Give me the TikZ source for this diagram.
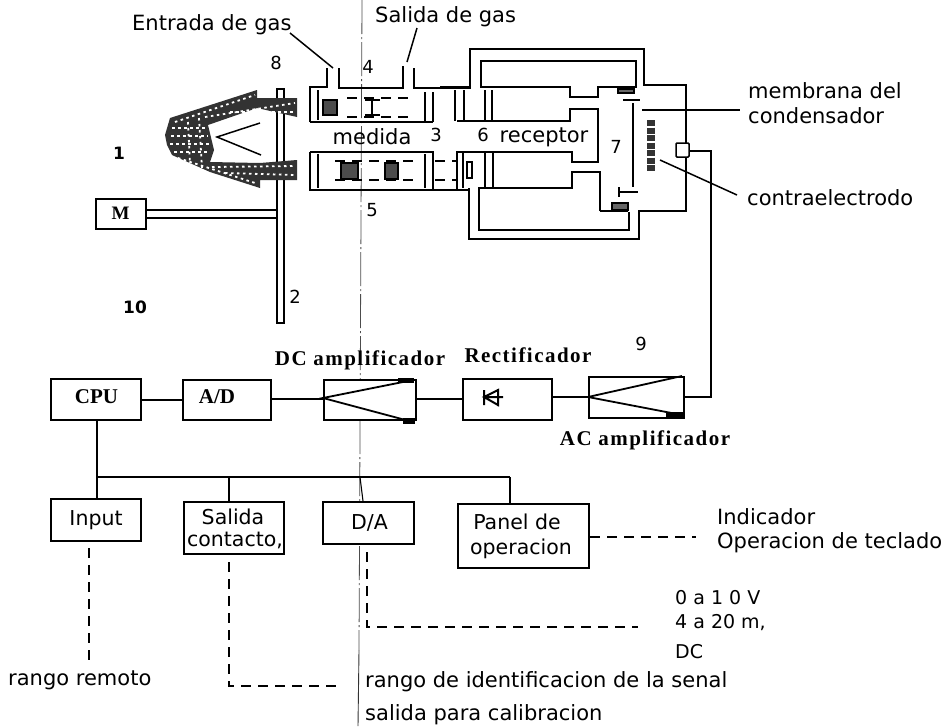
\documentclass[tikz,border=0pt]{standalone}
\usepackage{fontspec}
\setmainfont{Liberation Serif}
\setsansfont{DejaVu Sans}
\newfontfamily\wideserif[LetterSpace=7]{Liberation Serif}
\tikzset{
 px/.style={x=1pt,y=-1pt},
 wire/.style={draw=black,line width=1.5pt},
 thin wire/.style={draw=black,line width=1.1pt},
 block/.style={draw=black,line width=2pt,fill=white,inner sep=0pt,anchor=north west},
 lab/.style={font=\sffamily\fontsize{21}{25}\selectfont,inner sep=0pt,text=black},
 small lab/.style={font=\sffamily\fontsize{19}{22}\selectfont,inner sep=0pt,text=black},
 boxtext/.style={font=\sffamily\fontsize{20.5}{23}\selectfont,inner sep=0pt,text=black},
 num/.style={font=\sffamily\fontsize{18}{20}\selectfont,inner sep=0pt,text=black},
 bnum/.style={font=\sffamily\bfseries\fontsize{17}{20}\selectfont,inner sep=0pt,text=black},
 serif/.style={font=\wideserif\bfseries\fontsize{21}{24}\selectfont,inner sep=0pt,text=black},
 dash1/.style={draw=black,line width=1.5pt,dash pattern=on 10pt off 7pt},
 axisline/.style={draw=black!70,line width=0.8pt,dash pattern=on 34pt off 3pt on 2pt off 3pt},
 coil/.style={draw=none,fill=black!80},
 noise/.style={draw=white,line width=1.8pt,dash pattern=on 2.5pt off 3.5pt},
 core/.style={draw=black,line width=1.6pt,fill=black!70},
}
\newcommand{\bx}[6]{\node[block,minimum width=#4 pt,minimum height=#5 pt] (#1) at (#2,#3) {#6};}
\begin{document}
\begin{tikzpicture}[px]
\useasboundingbox (0,0) rectangle (949,726);
% centre axis
\coordinate (axT) at (362,0); \coordinate (axM) at (359,650); \coordinate (axB) at (358,726);
\draw[axisline] (axT) -- (axM);
\draw[draw=black!80,line width=0.9pt] (axM) -- (axB);
% disc
\draw[wire,fill=white] (277,89) rectangle (284,323);
% motor
\node[draw=black,line width=2pt,minimum width=50pt,minimum height=30pt,inner sep=0pt,font=\rmfamily\bfseries\fontsize{19}{21}\selectfont] (M) at (120.5,213.5) {M};
\coordinate (shT) at (277,210); \coordinate (shB) at (277,218);
\draw[wire] (M.east |- shT) -- (shT);
\draw[wire] (M.east |- shB) -- (shB);
% source
\path[coil] (257,90) -- (170,118) -- (165,135) -- (167,145) -- (172,155) -- (210,172) -- (260,188) -- (260,180) -- (297,180) -- (297,160) -- (260,163) -- (210,162) -- (214,150) -- (208,125) -- (257,108) -- (297,117) -- (297,98) -- (257,98) -- cycle;
\draw[noise] (175,122) -- (255,95);
\draw[noise] (205,117) -- (295,103);
\draw[noise] (230,112) -- (295,112);
\draw[noise] (178,158) -- (255,183);
\draw[noise] (212,167) -- (295,166);
\draw[noise] (225,173) -- (295,175);
\draw[noise] (172,128) -- (205,128);
\draw[noise] (171,136) -- (208,136);
\draw[noise] (170,144) -- (210,144);
\draw[noise] (174,152) -- (208,152);
\draw[noise] (188,122) -- (190,164);
\draw[noise] (199,118) -- (202,168);
\draw[wire] (260,123) -- (217,137) -- (261,155);
% measuring chamber
\draw[wire] (310,122) -- (310,87) -- (327,87) -- (327,68);
\draw[wire] (339,68) -- (339,88) -- (403,88) -- (403,66);
\draw[wire] (414,68) -- (414,88) -- (470,88) -- (470,49) -- (644,49) -- (644,85) -- (686,85) -- (686,211) -- (639,211) -- (639,239) -- (469,239) -- (469,188);
\draw[wire] (310,122) -- (433,122);
\draw[wire] (310,152) -- (433,152) -- (433,190);
\draw[wire] (310,152) -- (310,190) -- (469,190);
\draw[thin wire] (318,90) -- (318,120) (318,154) -- (318,188);
\draw[thin wire] (425,92) -- (425,122) (433,92) -- (433,122) (425,154) -- (425,188);
\draw[dash1] (347,98) -- (410,98);
\draw[dash1] (347,117) -- (410,117);
\draw[dash1] (335,161) -- (417,161);
\draw[dash1] (335,180) -- (417,180);
\draw[dash1] (435,161) -- (457,161);
\draw[dash1] (435,180) -- (457,180);
\draw[core] (323,100) rectangle (337,115);
\draw[line width=2.5pt] (365,100) -- (380,100) (372,100) -- (372,115) (365,115) -- (380,115);
\draw[core] (341,163) rectangle (358,179);
\draw[core] (385,163) rectangle (398,179);
% receiver
\draw[wire] (457,121) -- (570,121) -- (570,109) -- (598,109) -- (598,162) -- (572,162) -- (572,152) -- (457,152) -- (457,190);
\draw[wire] (481,87) -- (481,61) -- (636,61) -- (636,87) -- (598,87) -- (598,97) -- (570,97) -- (570,87) -- cycle;
\draw[wire] (470,87) -- (440,87);
\draw[wire] (600,211) -- (600,172) -- (572,172) -- (572,188) -- (479,188) -- (479,230) -- (629,230) -- (629,212);
\draw[wire] (600,211) -- (628,211);
\draw[thin wire] (455,90) -- (455,121) (464,90) -- (464,121);
\draw[thin wire] (485,90) -- (485,121) (492,90) -- (492,121);
\draw[thin wire] (463,153) -- (463,188);
\draw[thin wire] (485,153) -- (485,187) (493,153) -- (493,187);
\draw[thin wire] (467,162) rectangle (472,178);
% condenser
\draw[wire] (633,103) -- (633,187);
\draw[thin wire] (623,100) -- (640,100);
\draw[thin wire] (619,192) -- (638,192) (619,187) -- (619,197);
\draw[line width=1.4pt,fill=black!60] (612,203) rectangle (628,210);
\draw[line width=1.4pt,fill=black!60] (618,89) rectangle (634,93);
\draw[line width=8pt,black!80,dash pattern=on 6pt off 1.5pt] (651,120) -- (651,172);
\node[draw=black,line width=1.5pt,fill=white,rounded corners=1pt,minimum width=13pt,minimum height=14pt,inner sep=0pt] (port) at (682.5,150) {};
% labelled pointers
\coordinate (memE) at (740,110); \coordinate (memS) at (642,110);
\draw[thin wire] (memS) -- (memE);
\coordinate (ctrE) at (737,195); \coordinate (ctrS) at (660,160);
\draw[wire] (ctrS) -- (ctrE);
\coordinate (inE) at (333,68); \coordinate (inS) at (290,33);
\draw[wire] (inS) -- (inE);
\coordinate (outE) at (407,62); \coordinate (outS) at (417,28);
\draw[wire] (outS) -- (outE);
% labels upper
\node[lab,anchor=west] (t1) at (132,25) {Entrada de gas};
\node[lab,anchor=west] (t2) at (375,17) {Salida de gas};
\node[num] (n8) at (276,63) {8};
\node[num] (n4) at (368,67) {4};
\node[bnum] (n1) at (119,153) {1};
\node[num] (n3) at (436,135) {3};
\node[num] (n6) at (483,135) {6};
\node[num] (n5) at (372,210) {5};
\node[num] (n2) at (295,297) {2};
\node[bnum] (n10) at (135,307) {10};
\node[num] (n7) at (616,147) {7};
\node[num] (n9) at (641,344) {9};
\node[lab] (med) at (372,137) {medida};
\node[lab] (rec) at (544,137) {receptor};
\node[lab,anchor=west] (t3a) at (748,91) {membrana del};
\node[lab,anchor=west] (t3b) at (748,116) {condensador};
\node[lab,anchor=west] (t4) at (747,198) {contraelectrodo};
% blocks
\bx{cpu}{50}{378}{90}{41}{}
\node[serif,font=\rmfamily\bfseries\fontsize{21}{24}\selectfont] at (96.5,397) {CPU};
\bx{ad}{182}{379}{88}{40}{}
\node[serif,font=\rmfamily\bfseries\fontsize{21}{24}\selectfont] at (217,397) {A/D};
\bx{dc}{323}{379}{92}{40}{}
\bx{rect}{462}{378}{89}{41}{}
\bx{ac}{588}{376}{95}{41}{}
\node[serif] (dct) at (360,360) {DC amplificador};
\node[serif] (rct) at (528,355) {Rectificador};
\node[serif] (act) at (645,440) {AC amplificador};
% amplifier triangles
\draw[line width=1.8pt] (413,380) -- (323,398) -- (413,422);
\draw[line width=1.8pt] (682,376) -- (588,397) -- (682,415);
\fill (398,378) rectangle (414,383);
\fill (403,418) rectangle (415,424);
\fill (666,412) rectangle (683,417);
% diode
\draw[line width=2pt] (484,390) -- (484,405) (498,389) -- (498,406) (484,397) -- (498,390) -- (498,405) -- cycle (483,397) -- (503,397);
% connectors
\draw[wire] (cpu.east |- 0,400) -- (ad.west |- 0,400);
\draw[thin wire] (ad.east |- 0,399) -- (dc.west |- 0,399);
\draw[thin wire] (dc.east |- 0,399) -- (rect.west |- 0,399);
\draw[thin wire] (rect.east |- 0,397) -- (ac.west |- 0,397);
\draw[wire] (ac.east |- 0,397) -- (711,397) -- (711,151) -- (port.east |- 0,151);
% lower blocks
\bx{inp}{50}{498}{90}{42}{\raisebox{2pt}{\sffamily\fontsize{20.5}{23}\selectfont Input}}
\bx{sal}{183}{501}{100}{52}{}
\node[boxtext] at (233,517) {Salida};
\node[boxtext] at (235,540) {contacto,};
\bx{da}{322}{501}{91}{42}{\hspace{2pt}\sffamily\fontsize{20.5}{23}\selectfont D/A}
\bx{pan}{457}{503}{131}{64}{}
\node[boxtext] at (517,522) {Panel de};
\node[boxtext] at (521,549) {operacion};
\coordinate (bus0) at (97,477); \coordinate (bus1) at (510,477);
\draw[wire] (97,419) -- (bus0) -- (bus1);
\draw[wire] (bus0) -- (97,498);
\draw[wire] (229,477) -- (229,501);
\draw[thin wire] (360,477) -- (363,501);
\draw[thin wire] (510,477) -- (510,503);
% dashed signals
\coordinate (ind) at (696,537);
\draw[dash1] (pan.east |- ind) -- (ind);
\coordinate (in0) at (89,663);
\draw[dash1] (89,548) -- (in0);
\coordinate (s0) at (229,562); \coordinate (s1) at (229,686); \coordinate (s2) at (340,686);
\draw[dash1] (s0) -- (s1) -- (s2);
\coordinate (d0) at (367,552); \coordinate (d1) at (367,627); \coordinate (d2) at (638,627);
\draw[dash1] (d0) -- (d1) -- (d2);
% lower labels
\node[lab,anchor=west] (t5) at (717,517) {Indicador};
\node[lab,anchor=west] (t6) at (717,543) {Operacion de teclado};
\node[small lab,anchor=west] (t7) at (675,598) {0 a 1 0 V};
\node[small lab,anchor=west] (t8) at (675,623) {4 a 20 m,};
\node[small lab,anchor=west] (t9) at (675,652) {DC};
\node[lab,anchor=west] (t10) at (8,680) {rango remoto};
\node[lab,anchor=west] (t11) at (365,682) {rango de identificacion de la senal};
\node[lab,anchor=west] (t12) at (365,715) {salida para calibracion};
\end{tikzpicture}
\end{document}
